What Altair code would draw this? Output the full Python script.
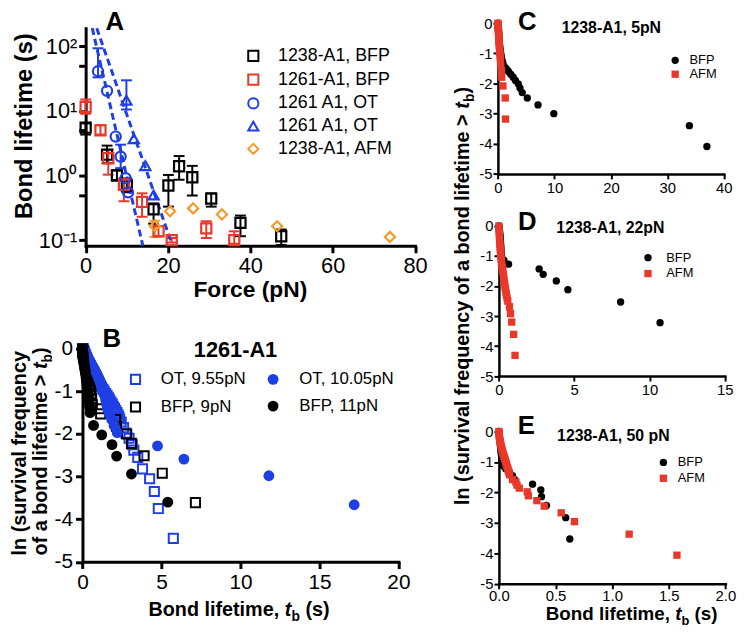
import altair as alt
import pandas as pd

FONT = "Liberation Sans"
W, H = 737, 625
M = 8


def px(v):
    return v - M


BLACK = "#000000"
RED = "#e8382a"
BLUE = "#1f3fe6"
ORANGE = "#f39a2b"

# ---------------- Panel A : bond lifetime vs force ----------------
A_names = ["1238-A1, BFP", "1261-A1, BFP", "1261 A1, OT", "1261 A1, OT ", "1238-A1, AFM"]
A_colors = [BLACK, RED, BLUE, BLUE, ORANGE]
A_shapes = ["square", "square", "circle", "triangle-up", "diamond"]

A_bfp1238_F = [0.0, 5.2, 7.6, 10.0, 16.5, 20.1, 22.7, 25.9, 30.5, 37.6, 47.5]
A_bfp1238_v = [5.5, 2.1, 1.0, 0.70, 0.30, 0.70, 1.39, 0.94, 0.44, 0.185, 0.115]
A_bfp1238_lo = [4.3, 1.55, 0.85, 0.55, 0.18, 0.33, 0.86, 0.49, 0.33, 0.115, 0.084]
A_bfp1238_hi = [6.4, 2.9, 1.2, 0.90, 0.37, 1.02, 2.0, 1.41, 0.53, 0.24, 0.146]

A_bfp1261_F = [0.0, 3.6, 5.5, 9.3, 13.7, 17.7, 20.9, 29.3, 36.1]
A_bfp1261_v = [11.5, 5.0, 1.85, 0.72, 0.39, 0.137, 0.100, 0.152, 0.100]
A_bfp1261_lo = [9.0, 4.3, 1.03, 0.40, 0.23, 0.115, 0.092, 0.108, 0.088]
A_bfp1261_hi = [15.0, 6.0, 2.5, 0.91, 0.53, 0.165, 0.108, 0.196, 0.137]

A_otc_F = [3.0, 5.2, 7.3, 8.5, 9.7, 10.3]
A_otc_v = [41.0, 20.4, 4.0, 1.96, 0.91, 0.55]
A_otc_errF = [3.0, 8.5]
A_otc_lo = [33.0, 1.3]
A_otc_hi = [93.0, 3.0]

A_ott_F = [9.9, 11.7, 14.5, 16.5]
A_ott_v = [14.6, 3.7, 1.42, 0.50]
A_ott_errF = [9.9]
A_ott_lo = [10.5]
A_ott_hi = [29.7]

A_afm_F = [16.8, 20.5, 26.1, 33.1, 46.5, 73.9]
A_afm_v = [0.164, 0.28, 0.31, 0.25, 0.164, 0.112]
A_afm_errF = [16.8]
A_afm_lo = [0.112]
A_afm_hi = [0.2]

# dashed exponential fits (end points where they meet the plot edges)
FIT_id = ["circles", "circles", "triangles", "triangles"]
FIT_F = [1.6, 13.9, 2.7, 21.1]
FIT_v = [190.0, 0.0817, 190.0, 0.0817]

# ---------------- Panel B : 1261-A1 survival ----------------
B_ot955_t = [0.05, 0.1, 0.15, 0.2, 0.25, 0.3, 0.36, 0.42, 0.48, 0.55, 0.62, 0.68, 0.75, 0.82, 0.9,
             0.97, 1.05, 1.12, 1.2, 1.3, 1.38, 1.47, 1.56, 1.65, 1.72, 1.8, 1.88, 1.95, 2.03, 2.1,
             2.18, 2.25, 2.3, 2.35, 2.45, 2.6, 2.75, 2.95, 3.15, 3.25, 3.5, 3.8, 4.25, 4.55, 4.8, 5.75]
B_ot955_y = [0, -0.05, -0.1, -0.15, -0.2, -0.25, -0.3, -0.35, -0.4, -0.45, -0.5, -0.55, -0.6, -0.65, -0.7,
             -0.75, -0.8, -0.85, -0.9, -0.95, -1.0, -1.05, -1.1, -1.15, -1.2, -1.25, -1.3, -1.35, -1.4, -1.45,
             -1.5, -1.55, -1.6, -1.65, -1.72, -1.85, -1.98, -2.1, -2.25, -2.38, -2.55, -2.82, -3.05, -3.35,
             -3.75, -4.45]
B_bfp9_t = [0.0, 0.01, 0.02, 0.03, 0.04, 0.05, 0.06, 0.08, 0.1, 0.12, 0.14, 0.16, 0.18, 0.2, 0.22,
            0.25, 0.28, 0.31, 0.34, 0.37, 0.4, 0.43, 0.46, 0.5, 0.54, 0.58, 0.62,
            1.1, 1.15, 2.1, 2.15, 2.8, 3.1, 3.9, 5.05, 7.15]
B_bfp9_y = [0, -0.03, -0.06, -0.08, -0.11, -0.14, -0.17, -0.2, -0.24, -0.27, -0.31, -0.35, -0.39, -0.43,
            -0.47, -0.51, -0.56, -0.61, -0.66, -0.71, -0.77, -0.83, -0.9, -0.98, -1.06, -1.17, -1.31,
            -1.41, -1.53, -1.66, -1.82, -2.0, -2.22, -2.51, -2.92, -3.61]
B_ot1005_t = [0.02, 0.06, 0.1, 0.14, 0.18, 0.22, 0.27, 0.32, 0.37, 0.42, 0.47, 0.53, 0.58, 0.64, 0.7,
              0.76, 0.82, 0.88, 0.94, 1.0, 1.06, 1.12, 1.18, 1.24, 1.3, 1.35, 1.4, 1.45, 1.5, 1.55,
              1.6, 1.7, 1.85, 2.0, 2.2, 4.75, 6.42, 11.8, 17.2]
B_ot1005_y = [0, -0.03, -0.05, -0.08, -0.11, -0.14, -0.17, -0.2, -0.23, -0.26, -0.3, -0.33, -0.37, -0.41,
              -0.45, -0.49, -0.53, -0.57, -0.62, -0.67, -0.72, -0.77, -0.83, -0.89, -0.95, -1.02, -1.09,
              -1.17, -1.25, -1.34, -1.43, -1.54, -1.66, -1.8, -1.97, -2.28, -2.59, -2.98, -3.66]
B_bfp11_t = [0.0, 0.01, 0.02, 0.03, 0.04, 0.05, 0.06, 0.07, 0.08, 0.09, 0.1, 0.12, 0.14, 0.16, 0.18,
             0.2, 0.22, 0.24, 0.26, 0.28, 0.3, 0.33, 0.36, 0.39, 0.42, 0.45, 0.48,
             0.7, 1.22, 1.87, 2.16, 3.1, 5.4]
B_bfp11_y = [0, -0.03, -0.06, -0.09, -0.12, -0.15, -0.19, -0.23, -0.27, -0.31, -0.35, -0.4, -0.45, -0.5,
             -0.55, -0.6, -0.66, -0.72, -0.78, -0.85, -0.92, -0.99, -1.07, -1.16, -1.26, -1.37, -1.5,
             -1.8, -2.02, -2.25, -2.52, -2.94, -3.6]

# ---------------- Panel C : 1238-A1, 5pN ----------------
C_bfp_t = [0.0, 0.02, 0.04, 0.06, 0.08, 0.1, 0.12, 0.14, 0.16, 0.18, 0.2, 0.22, 0.24, 0.26, 0.28, 0.3,
           0.33, 0.36, 0.4, 0.44, 0.48, 0.52, 0.56, 0.6, 0.7, 0.85,
           1.0, 1.3, 1.6, 1.9, 2.3, 2.7, 3.1, 3.6, 3.9, 4.3, 5.2, 7.1, 9.9, 33.9, 37.0]
C_bfp_y = [0, -0.05, -0.1, -0.15, -0.2, -0.25, -0.3, -0.35, -0.4, -0.45, -0.5, -0.55, -0.6, -0.65, -0.7,
           -0.75, -0.8, -0.85, -0.9, -0.95, -1.0, -1.05, -1.1, -1.15, -1.22, -1.3,
           -1.41, -1.47, -1.54, -1.61, -1.70, -1.79, -1.90, -2.01, -2.15, -2.30, -2.48, -2.71, -3.0, -3.4,
           -4.09]
C_afm_t = [0.0, 0.02, 0.04, 0.06, 0.08, 0.1, 0.12, 0.14, 0.16, 0.18, 0.2, 0.22, 0.25, 0.28, 0.31, 0.35,
           0.4, 0.45, 0.5, 0.6, 0.67, 0.88, 1.29, 1.35]
C_afm_y = [0, -0.05, -0.1, -0.15, -0.21, -0.27, -0.33, -0.39, -0.46, -0.53, -0.6, -0.67, -0.75, -0.83,
           -0.92, -1.01, -1.11, -1.22, -1.39, -1.58, -1.79, -2.08, -2.48, -3.18]

# ---------------- Panel D : 1238-A1, 22pN ----------------
D_bfp_t = [0.0, 0.01, 0.02, 0.03, 0.04, 0.05, 0.06, 0.07, 0.08, 0.09, 0.1, 0.11, 0.12, 0.13, 0.14, 0.16,
           0.18, 0.33, 0.64, 2.67, 2.94, 3.81, 4.58, 8.08, 10.7]
D_bfp_y = [0, -0.04, -0.08, -0.12, -0.17, -0.22, -0.27, -0.32, -0.38, -0.44, -0.5, -0.56, -0.63, -0.7,
           -0.78, -0.9, -1.02, -1.14, -1.27, -1.43, -1.61, -1.83, -2.12, -2.53, -3.22]
D_afm_t = [0.0, 0.01, 0.02, 0.03, 0.04, 0.05, 0.065, 0.08, 0.095, 0.11, 0.13, 0.15, 0.17, 0.2, 0.23,
           0.26, 0.29, 0.32, 0.34, 0.37, 0.4, 0.43, 0.47, 0.5, 0.54, 0.59, 0.7, 0.77, 0.85, 0.98, 1.07]
D_afm_y = [0, -0.1, -0.2, -0.3, -0.4, -0.5, -0.6, -0.7, -0.8, -0.9, -1.0, -1.1, -1.2, -1.3, -1.4, -1.5,
           -1.6, -1.7, -1.8, -1.9, -2.0, -2.1, -2.2, -2.3, -2.4, -2.5, -2.69, -2.92, -3.2, -3.61, -4.31]

# ---------------- Panel E : 1238-A1, 50 pN ----------------
E_bfp_t = [0.0, 0.002, 0.004, 0.006, 0.008, 0.01, 0.012, 0.014, 0.016, 0.018, 0.02, 0.022, 0.024, 0.026,
           0.028, 0.03, 0.04, 0.06, 0.093, 0.12, 0.14, 0.297, 0.37, 0.376, 0.42, 0.59, 0.626]
E_bfp_y = [0, -0.07, -0.14, -0.21, -0.28, -0.35, -0.42, -0.49, -0.56, -0.63, -0.7, -0.77, -0.84, -0.91,
           -0.98, -1.05, -1.13, -1.22, -1.33, -1.45, -1.58, -1.73, -1.92, -2.14, -2.43, -2.83, -3.53]
E_afm_t = [0.0, 0.0, 0.002, 0.005, 0.008, 0.012, 0.016, 0.02, 0.025, 0.03, 0.035, 0.04, 0.045, 0.05,
           0.055, 0.06, 0.065, 0.07, 0.075, 0.08, 0.085, 0.09, 0.095,
           0.12, 0.15, 0.16, 0.18, 0.25, 0.26, 0.335, 0.4, 0.55, 0.667, 1.15, 1.572]
E_afm_y = [0, -0.07, -0.14, -0.21, -0.28, -0.35, -0.42, -0.49, -0.56, -0.63, -0.7, -0.76, -0.82, -0.88,
           -0.94, -1.0, -1.06, -1.12, -1.18, -1.24, -1.3, -1.36, -1.42,
           -1.58, -1.66, -1.76, -1.86, -1.98, -2.11, -2.27, -2.45, -2.67, -2.96, -3.37, -4.06]


# ---------------- helpers ----------------
def frame(pairs, xname, yname):
    rows = []
    for name, xs, ys in pairs:
        for a, b in zip(xs, ys):
            rows.append({"series": name, xname: a, yname: b})
    return pd.DataFrame(rows)


def ax(orient, offset, values, fs, tsize, twidth, dwidth, lpad, **kw):
    return alt.Axis(orient=orient, offset=offset, values=values, title=None, grid=False,
                    domainColor="black", domainWidth=dwidth, domainCap="square",
                    tickColor="black", tickWidth=twidth, tickSize=tsize,
                    labelFont=FONT, labelFontSize=fs, labelColor="black", labelPadding=lpad,
                    labelFlush=False, labelOverlap=False, labelBound=False, **kw)


def leg(x, y, fs, offset, rowpad, ssize, sstroke):
    return alt.Legend(orient="none", legendX=x, legendY=y, title=None, padding=0,
                      labelFont=FONT, labelFontSize=fs, labelColor="black", labelOffset=offset,
                      rowPadding=rowpad, symbolSize=ssize, symbolStrokeWidth=sstroke, labelLimit=400)


ONE = pd.DataFrame({"k": [0]})


def T(s, x, y, size, weight="bold", style="normal", angle=0, align="center", baseline="middle"):
    return alt.Chart(ONE).mark_text(text=s, font=FONT, fontSize=size, fontWeight=weight,
                                    fontStyle=style, angle=angle, align=align, baseline=baseline,
                                    color="black").encode(x=alt.value(px(x)), y=alt.value(px(y)))


NEG = "(datum.value < 0 ? '-' : '') + abs(datum.value)"

# ---------------- Panel A layers ----------------
xA = alt.Scale(domain=[0, 80], range=[px(86.5), px(419.5)], nice=False, zero=False)
yA = alt.Scale(type="log", domain=[0.0817, 190], range=[px(245), px(25)], nice=False)
axA_x = ax("bottom", px(245) - H, [0, 20, 40, 60, 80], 22, 7, 3, 3, 3)
axA_y = ax("left", -px(86.5), [0.1, 0.5, 1, 5, 10, 50, 100], 22, 7, 3, 3, 2,
           labelExpr="datum.value == 0.1 ? '10⁻¹' : datum.value == 1 ? '10⁰' : "
                     "datum.value == 10 ? '10¹' : datum.value == 100 ? '10²' : ''")
colA = alt.Scale(domain=A_names, range=A_colors)
shpA = alt.Scale(domain=A_names, range=A_shapes)
legA = leg(px(252) - 5, px(53) - 9, 18, 16, 4, 105, 2)

dfA = frame([(A_names[0], A_bfp1238_F, A_bfp1238_v), (A_names[1], A_bfp1261_F, A_bfp1261_v),
             (A_names[2], A_otc_F, A_otc_v), (A_names[3], A_ott_F, A_ott_v),
             (A_names[4], A_afm_F, A_afm_v)], "F", "v")
errs = []
for name, Fs, los, his in [(A_names[0], A_bfp1238_F, A_bfp1238_lo, A_bfp1238_hi),
                           (A_names[1], A_bfp1261_F, A_bfp1261_lo, A_bfp1261_hi),
                           (A_names[2], A_otc_errF, A_otc_lo, A_otc_hi),
                           (A_names[3], A_ott_errF, A_ott_lo, A_ott_hi),
                           (A_names[4], A_afm_errF, A_afm_lo, A_afm_hi)]:
    for f, lo, hi in zip(Fs, los, his):
        errs.append({"series": name, "F": f, "lo": lo, "hi": hi})
dfAerr = pd.DataFrame(errs)
dfFit = pd.DataFrame({"fit": FIT_id, "F": FIT_F, "v": FIT_v})

errRule = alt.Chart(dfAerr).mark_rule(strokeWidth=2).encode(
    x=alt.X("F:Q", scale=xA, axis=None), y=alt.Y("lo:Q", scale=yA, axis=None), y2="hi:Q",
    color=alt.Color("series:N", scale=colA, legend=None))
capLo = alt.Chart(dfAerr).mark_tick(orient="horizontal", size=11, thickness=2, opacity=1).encode(
    x=alt.X("F:Q", scale=xA, axis=None), y=alt.Y("lo:Q", scale=yA, axis=None),
    color=alt.Color("series:N", scale=colA, legend=None))
capHi = alt.Chart(dfAerr).mark_tick(orient="horizontal", size=11, thickness=2, opacity=1).encode(
    x=alt.X("F:Q", scale=xA, axis=None), y=alt.Y("hi:Q", scale=yA, axis=None),
    color=alt.Color("series:N", scale=colA, legend=None))
fitLines = alt.Chart(dfFit).mark_line(strokeDash=[7, 4], strokeWidth=3, color=BLUE).encode(
    x=alt.X("F:Q", scale=xA, axis=None), y=alt.Y("v:Q", scale=yA, axis=None), detail="fit:N")
ptsA = alt.Chart(dfA).mark_point(filled=False, size=105, strokeWidth=2.2, opacity=1).encode(
    x=alt.X("F:Q", scale=xA, axis=axA_x), y=alt.Y("v:Q", scale=yA, axis=axA_y),
    color=alt.Color("series:N", scale=colA, legend=legA),
    shape=alt.Shape("series:N", scale=shpA, legend=legA))

# ---------------- Panel B layers ----------------
xB = alt.Scale(domain=[0, 20], range=[px(83.3), px(402.7)], nice=False, zero=False)
yB = alt.Scale(domain=[-5, 0], range=[px(564.5), px(349)], nice=False, zero=False)
axB_x = ax("bottom", px(564.3) - H, [0, 5, 10, 15, 20], 21, 7, 3, 3, 3)
axB_y = ax("left", -px(83.3), [-5, -4, -3, -2, -1, 0], 21, 7, 3, 3, 3, labelExpr=NEG)
B_sq_names = ["OT, 9.55pN", "BFP, 9pN"]
B_ci_names = ["OT, 10.05pN", "BFP, 11pN"]
dfBsq = frame([(B_sq_names[0], B_ot955_t, B_ot955_y), (B_sq_names[1], B_bfp9_t, B_bfp9_y)], "t", "y")
dfBci = frame([(B_ci_names[0], B_ot1005_t, B_ot1005_y), (B_ci_names[1], B_bfp11_t, B_bfp11_y)], "t", "y")
sqB = alt.Chart(dfBsq).mark_point(shape="square", filled=False, size=85, strokeWidth=2, opacity=1).encode(
    x=alt.X("t:Q", scale=xB, axis=axB_x), y=alt.Y("y:Q", scale=yB, axis=axB_y),
    color=alt.Color("series:N", scale=alt.Scale(domain=B_sq_names, range=[BLUE, BLACK]),
                    legend=leg(px(133) - 4.6, px(380) - 8.5, 17, 17, 9, 85, 2)))
ciB = alt.Chart(dfBci).mark_point(shape="circle", filled=True, size=120, opacity=1).encode(
    x=alt.X("t:Q", scale=xB, axis=None), y=alt.Y("y:Q", scale=yB, axis=None),
    color=alt.Color("series:N", scale=alt.Scale(domain=B_ci_names, range=[BLUE, BLACK]),
                    legend=leg(px(273) - 5.5, px(380) - 8.5, 17, 18, 9, 120, 0)))


# ---------------- Panels C, D, E ----------------
def survival_panel(bt, by, at, ay, xdom, xvals, xr, yr, legxy, xfmt=None, xpad=2):
    df = frame([("BFP", bt, by), ("AFM", at, ay)], "t", "y")
    xs = alt.Scale(domain=xdom, range=[px(xr[0]), px(xr[1])], nice=False, zero=False)
    ys = alt.Scale(domain=[-5, 0], range=[px(yr[0]), px(yr[1])], nice=False, zero=False)
    kw = {"format": xfmt} if xfmt else {}
    axx = ax("bottom", px(yr[0]) - H, xvals, 15, 5, 2, 2.5, xpad, **kw)
    axy = ax("left", -px(xr[0]), [-5, -4, -3, -2, -1, 0], 15, 5, 2, 2.5, 1, labelExpr=NEG)
    lg = leg(px(legxy[0]) - 3.7, px(legxy[1]) - 7, 13, legxy[2], legxy[3], 55, 0)
    return alt.Chart(df).mark_point(filled=True, size=55, opacity=1).encode(
        x=alt.X("t:Q", scale=xs, axis=axx), y=alt.Y("y:Q", scale=ys, axis=axy),
        color=alt.Color("series:N", scale=alt.Scale(domain=["BFP", "AFM"], range=[BLACK, RED]), legend=lg),
        shape=alt.Shape("series:N", scale=alt.Scale(domain=["BFP", "AFM"], range=["circle", "square"]),
                        legend=lg))


panelC = survival_panel(C_bfp_t, C_bfp_y, C_afm_t, C_afm_y, [0, 40], [0, 10, 20, 30, 40],
                        (503.3, 731.7), (172.3, 20), (679.7, 58, 8, 0))
panelD = survival_panel(D_bfp_t, D_bfp_y, D_afm_t, D_afm_y, [0, 15], [0, 5, 10, 15],
                        (504.3, 732.7), (376.7, 225), (652.2, 257.5, 12, 2))
panelE = survival_panel(E_bfp_t, E_bfp_y, E_afm_t, E_afm_y, [0, 2], [0, 0.5, 1, 1.5, 2],
                        (504.3, 733.3), (586.7, 432.7), (667.8, 464.5, 8, 2), xfmt=".1f", xpad=0)

# ---------------- texts ----------------
texts = [
    T("A", 116, 19, 26),
    T("Force (pN)", 253, 290, 23),
    T("Bond lifetime (s)", 25, 124, 24, angle=270),
    T("B", 113, 339, 26),
    T("1261-A1", 238, 350, 22),
    T("C", 533, 19, 26),
    T("1238-A1, 5pN", 618, 25, 16),
    T("D", 533, 221, 26),
    T("1238-A1, 22pN", 617, 227, 16),
    T("E", 532, 427, 26),
    T("1238-A1, 50 pN", 620, 437, 16),
    # panel B x title
    T("Bond lifetime,", 150, 619, 20, align="left", baseline="alphabetic"),
    T("t", 287.8, 619, 20, style="italic", align="left", baseline="alphabetic"),
    T("b", 294.5, 624, 14, align="left", baseline="alphabetic"),
    T("(s)", 308.7, 619, 20, align="left", baseline="alphabetic"),
    # panel B y title (two lines)
    T("ln (survival frequency", 26, 558, 20, angle=270, align="left", baseline="alphabetic"),
    T("of a bond lifetime >", 47, 558, 20, angle=270, align="left", baseline="alphabetic"),
    T("t", 47, 369.6, 20, style="italic", angle=270, align="left", baseline="alphabetic"),
    T("b", 52, 362.9, 14, angle=270, align="left", baseline="alphabetic"),
    T(")", 47, 354.3, 20, angle=270, align="left", baseline="alphabetic"),
    # panel E x title
    T("Bond lifetime,", 551.7, 623, 19, align="left", baseline="alphabetic"),
    T("t", 682.6, 623, 19, style="italic", align="left", baseline="alphabetic"),
    T("b", 688.9, 628, 13, align="left", baseline="alphabetic"),
    T("(s)", 702.1, 623, 19, align="left", baseline="alphabetic"),
    # shared y title for C-E
    T("ln (survival frequency of a bond lifetime >", 474, 507, 20, angle=270, align="left",
      baseline="alphabetic"),
    T("t", 474, 106.3, 20, style="italic", angle=270, align="left", baseline="alphabetic"),
    T("b", 479, 99.6, 14, angle=270, align="left", baseline="alphabetic"),
    T(")", 474, 91.0, 20, angle=270, align="left", baseline="alphabetic"),
]

chart = alt.layer(errRule, capLo, capHi, fitLines, ptsA, sqB, ciB, panelC, panelD, panelE, *texts).resolve_scale(
    x="independent", y="independent", color="independent", shape="independent"
).properties(
    width=W, height=H, padding=0, autosize=alt.AutoSizeParams(type="none"), background="white"
).configure_view(stroke=None)

chart.save("out.html", embed_options={"renderer": "svg", "actions": False})
